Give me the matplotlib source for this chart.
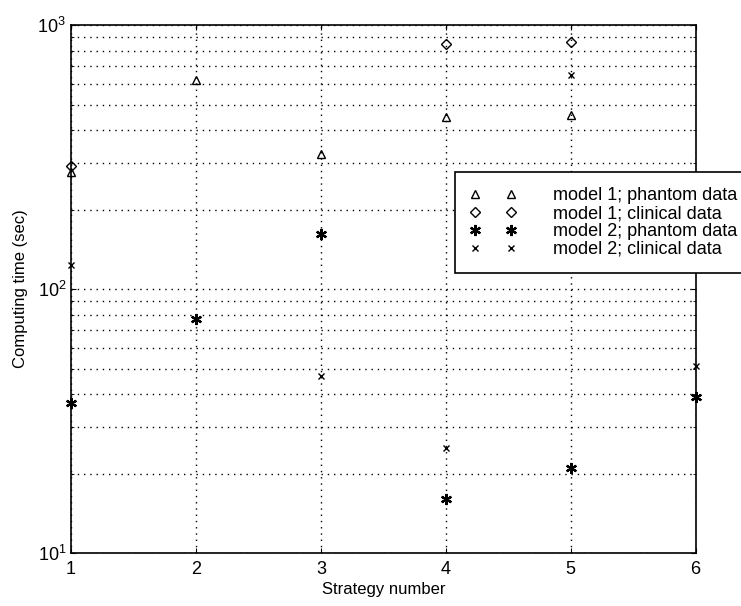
import matplotlib
matplotlib.use("Agg")
import matplotlib.pyplot as plt
import numpy as np

# =========================
# DATA
# =========================

strategies = [1, 2, 3, 4, 5, 6]

m1_phantom_x = [1, 2, 3, 4, 5]
m1_phantom_t = [277, 620, 325, 449, 456]

m1_clinical_x = [1, 4, 5]
m1_clinical_t = [292, 848, 862]

m2_phantom_x = [1, 2, 3, 4, 5, 6]
m2_phantom_t = [37, 77, 161, 16, 21, 39]

m2_clinical_x = [1, 3, 4, 5, 6]
m2_clinical_t = [123, 47, 25, 646, 51]

labels = [
    "model 1; phantom data",
    "model 1; clinical data",
    "model 2; phantom data",
    "model 2; clinical data",
]

# =========================
# PLOT
# =========================

plt.rcParams["font.family"] = ["Liberation Sans", "DejaVu Sans"]

fig = plt.figure(figsize=(7.41, 6.06), dpi=100)
ax = fig.add_axes([0.0958, 0.0875, 0.843, 0.871])

asterisk = (6, 2, 0)
kw = dict(linestyle="none", color="black", clip_on=False, zorder=3)
ax.plot(m1_phantom_x, m1_phantom_t, marker="^", markersize=6,
        markerfacecolor="none", markeredgewidth=1.0, label=labels[0], **kw)
ax.plot(m1_clinical_x, m1_clinical_t, marker="D", markersize=5,
        markerfacecolor="none", markeredgewidth=1.0, label=labels[1], **kw)
ax.plot(m2_phantom_x, m2_phantom_t, marker=asterisk, markersize=8,
        markeredgewidth=1.6, label=labels[2], **kw)
ax.plot(m2_clinical_x, m2_clinical_t, marker="x", markersize=5,
        markeredgewidth=1.0, label=labels[3], **kw)

ax.set_yscale("log")
ax.set_ylim(10, 1000)
ax.set_xlim(1, 6)
ax.set_xticks(strategies)

dots = (0, (1, 3.5))
ax.grid(True, which="both", axis="y", linestyle=dots, color="black", linewidth=1.0)
ax.grid(True, which="major", axis="x", linestyle=dots, color="black", linewidth=1.0)

ax.tick_params(which="both", direction="in", top=True, right=True, labelsize=13)
ax.tick_params(axis="x", pad=6)
for s in ax.spines.values():
    s.set_linewidth(1.2)

ax.set_xlabel("Strategy number", fontsize=12, labelpad=3)
ax.set_ylabel("Computing time (sec)", fontsize=12, labelpad=7)

# legend box runs past the right edge of the figure, as in the original
leg = ax.legend(loc="upper left", bbox_to_anchor=(0.614, 0.722), numpoints=2,
                handlelength=2.6, fontsize=13, frameon=True, fancybox=False,
                edgecolor="black", framealpha=1, borderaxespad=0,
                labelspacing=0.05, handletextpad=2.0, borderpad=0.85)
leg.get_frame().set_linewidth(1.2)

fig.savefig("out.png", dpi=100)
